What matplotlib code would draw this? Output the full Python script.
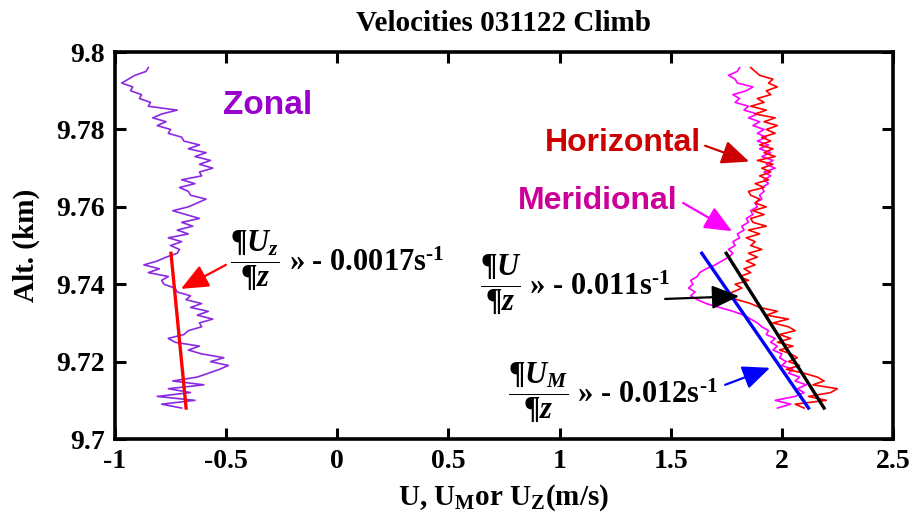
import numpy as np
import matplotlib
matplotlib.use("Agg")
import matplotlib.pyplot as plt

plt.rcParams['font.family'] = ['Liberation Serif', 'DejaVu Serif']
plt.rcParams['font.weight'] = 'bold'
plt.rcParams['axes.unicode_minus'] = False
plt.rcParams['mathtext.fontset'] = 'custom'
plt.rcParams['mathtext.rm'] = 'Liberation Serif:bold'
plt.rcParams['mathtext.bf'] = 'Liberation Serif:bold'
plt.rcParams['mathtext.it'] = 'Liberation Serif:bold:italic'

# altitude samples (km)
alt = [9.708, 9.709, 9.710, 9.711, 9.712, 9.713, 9.714, 9.715, 9.716, 9.717,
       9.718, 9.719, 9.720, 9.721, 9.722, 9.723, 9.724, 9.725, 9.726, 9.727,
       9.728, 9.729, 9.730, 9.731, 9.732, 9.733, 9.734, 9.735, 9.736, 9.737,
       9.738, 9.739, 9.740, 9.741, 9.742, 9.743, 9.744, 9.745, 9.746, 9.747,
       9.748, 9.749, 9.750, 9.751, 9.752, 9.753, 9.754, 9.755, 9.756, 9.757,
       9.758, 9.759, 9.760, 9.761, 9.762, 9.763, 9.764, 9.765, 9.766, 9.767,
       9.768, 9.769, 9.770, 9.771, 9.772, 9.773, 9.774, 9.775, 9.776, 9.777,
       9.778, 9.779, 9.780, 9.781, 9.782, 9.783, 9.784, 9.785, 9.786, 9.787,
       9.788, 9.789, 9.790, 9.791, 9.792, 9.793, 9.794, 9.795, 9.796]

# zonal wind U_Z (m/s)
u_zonal = [-0.70, -0.79, -0.64, -0.81, -0.66, -0.76, -0.60, -0.74, -0.63, -0.58,
           -0.53, -0.49, -0.57, -0.51, -0.61, -0.67, -0.62, -0.73, -0.76, -0.69,
           -0.67, -0.61, -0.62, -0.56, -0.63, -0.58, -0.66, -0.61, -0.68, -0.66,
           -0.72, -0.73, -0.78, -0.79, -0.76, -0.85, -0.80, -0.87, -0.81, -0.77,
           -0.72, -0.71, -0.75, -0.70, -0.76, -0.67, -0.72, -0.65, -0.70, -0.62,
           -0.68, -0.74, -0.67, -0.63, -0.59, -0.66, -0.67, -0.71, -0.64, -0.70,
           -0.61, -0.62, -0.56, -0.62, -0.57, -0.64, -0.59, -0.67, -0.62, -0.69,
           -0.70, -0.76, -0.75, -0.81, -0.77, -0.83, -0.79, -0.72, -0.85, -0.84,
           -0.89, -0.88, -0.93, -0.92, -0.97, -0.94, -0.91, -0.86, -0.85]

# horizontal wind speed U (m/s)
u_horiz = [2.10, 2.06, 2.20, 2.12, 2.22, 2.25, 2.14, 2.19, 2.16, 2.10,
           2.02, 2.08, 2.03, 2.07, 2.04, 1.99, 2.05, 1.98, 2.04, 1.99,
           2.06, 2.03, 1.96, 2.03, 1.93, 1.98, 1.90, 1.86, 1.80, 1.73,
           1.78, 1.82, 1.79, 1.85, 1.81, 1.86, 1.83, 1.88, 1.84, 1.89,
           1.85, 1.91, 1.86, 1.88, 1.84, 1.90, 1.85, 1.93, 1.87, 1.86,
           1.92, 1.87, 1.93, 1.88, 1.90, 1.86, 1.85, 1.92, 1.88, 1.94,
           1.90, 1.95, 1.91, 1.96, 1.89, 1.97, 1.92, 1.96, 1.90, 1.95,
           1.91, 1.97, 1.93, 1.98, 1.92, 1.97, 1.88, 1.93, 1.86, 1.92,
           1.89, 1.95, 1.93, 1.98, 1.94, 1.96, 1.90, 1.88, 1.86]

# meridional wind U_M (m/s)
u_merid = [1.98, 2.04, 1.97, 2.06, 2.10, 2.07, 2.11, 2.06, 2.08, 2.03,
           2.05, 2.00, 2.02, 1.99, 2.00, 1.96, 1.98, 1.95, 1.97, 1.93,
           1.94, 1.91, 1.89, 1.86, 1.83, 1.78, 1.72, 1.66, 1.62, 1.59,
           1.61, 1.58, 1.60, 1.59, 1.62, 1.63, 1.66, 1.70, 1.73, 1.76,
           1.78, 1.76, 1.79, 1.78, 1.81, 1.80, 1.83, 1.82, 1.85, 1.84,
           1.87, 1.86, 1.89, 1.88, 1.91, 1.90, 1.92, 1.91, 1.94, 1.92,
           1.95, 1.92, 1.97, 1.93, 1.96, 1.91, 1.95, 1.90, 1.94, 1.89,
           1.93, 1.89, 1.92, 1.87, 1.90, 1.85, 1.89, 1.83, 1.85, 1.79,
           1.81, 1.78, 1.84, 1.87, 1.80, 1.79, 1.76, 1.80, 1.81]

# linear fits over the lower layer: value at base and gradient (1/s)
fit_alt = [9.708, 9.748]
zonal_base, zonal_grad = -0.68, -0.0017
horiz_base, horiz_grad = 2.19, -0.011
merid_base, merid_grad = 2.12, -0.012

xticks = [-1, -0.5, 0, 0.5, 1, 1.5, 2, 2.5]
xlabels = ['-1', '-0.5', '0', '0.5', '1', '1.5', '2', '2.5']
yticks = [9.70, 9.72, 9.74, 9.76, 9.78, 9.80]
ylabels = ['9.7', '9.72', '9.74', '9.76', '9.78', '9.8']


def fit_line(base, grad):
    dz = (np.array(fit_alt) - fit_alt[0]) * 1000.0
    return base + grad * dz


def arrow(tip, start, color):
    ax.annotate('', xy=tip, xytext=start,
                arrowprops=dict(arrowstyle='-|>,head_length=0.6,head_width=0.26',
                                color=color, lw=1.6, mutation_scale=28,
                                shrinkA=0, shrinkB=0))


fig = plt.figure(figsize=(9.11, 5.25), dpi=100)
ax = fig.add_axes([0.1262, 0.1638, 0.854, 0.737])

ax.plot(u_zonal, alt, color='#8a2be2', lw=1.2)
ax.plot(u_merid, alt, color='#ff00ff', lw=1.2)
ax.plot(u_horiz, alt, color='#ff0000', lw=1.2)

ax.plot(fit_line(zonal_base, zonal_grad), fit_alt, color='#ff0000', lw=2.4)
ax.plot(fit_line(horiz_base, horiz_grad), fit_alt, color='black', lw=2.4)
ax.plot(fit_line(merid_base, merid_grad), fit_alt, color='#0000ff', lw=2.4)

ax.set_xlim(-1, 2.5)
ax.set_ylim(9.7, 9.8)
ax.set_xticks(xticks)
ax.set_xticklabels(xlabels)
ax.set_yticks(yticks)
ax.set_yticklabels(ylabels)
ax.tick_params(direction='in', length=8, width=2.2, top=True, right=True,
               labelsize=20, pad=7)
for s in ax.spines.values():
    s.set_linewidth(2.6)

ax.set_title('Velocities 031122 Climb', fontsize=21, fontweight='bold', pad=15)
ax.set_xlabel(r'U, U$_\mathrm{M}$or U$_\mathrm{Z}$(m/s)', fontsize=21,
              fontweight='bold', labelpad=6)
ax.set_ylabel('Alt. (km)', fontsize=21, fontweight='bold', labelpad=12)

# curve names
sans = ['Liberation Sans', 'DejaVu Sans']
ax.text(-0.313, 9.7863, 'Zonal', color='#9900cc', fontsize=24, family=sans,
        fontweight='bold', ha='center', va='center')
ax.text(1.287, 9.7764, 'Horizontal', color='#cc0000', fontsize=23, family=sans,
        fontweight='bold', ha='center', va='center')
arrow((1.853, 9.7717), (1.655, 9.7758), '#cc0000')
ax.text(1.17, 9.7615, 'Meridional', color='#cc0099', fontsize=23, family=sans,
        fontweight='bold', ha='center', va='center')
arrow((1.776, 9.7537), (1.556, 9.761), '#ff00ff')

# gradient labels
ax.text(-0.483, 9.7461,
        r'$\dfrac{\mathrm{¶}U_z}{\mathrm{¶}z}$ » - 0.0017s$^{\mathrm{‐1}}$',
        fontsize=22, ha='left', va='center')
arrow((-0.703, 9.7388), (-0.501, 9.745), '#ff0000')

ax.text(0.640, 9.7401,
        r'$\dfrac{\mathrm{¶}U}{\mathrm{¶}z}$ » - 0.011s$^{\mathrm{‐1}}$',
        fontsize=22, ha='left', va='center')
arrow((1.808, 9.7369), (1.475, 9.7362), 'black')

ax.text(0.766, 9.7121,
        r'$\dfrac{\mathrm{¶}U_M}{\mathrm{¶}z}$ » - 0.012s$^{\mathrm{‐1}}$',
        fontsize=22, ha='left', va='center')
arrow((1.947, 9.7184), (1.745, 9.714), '#0000ff')

fig.savefig('out.png', dpi=100)
